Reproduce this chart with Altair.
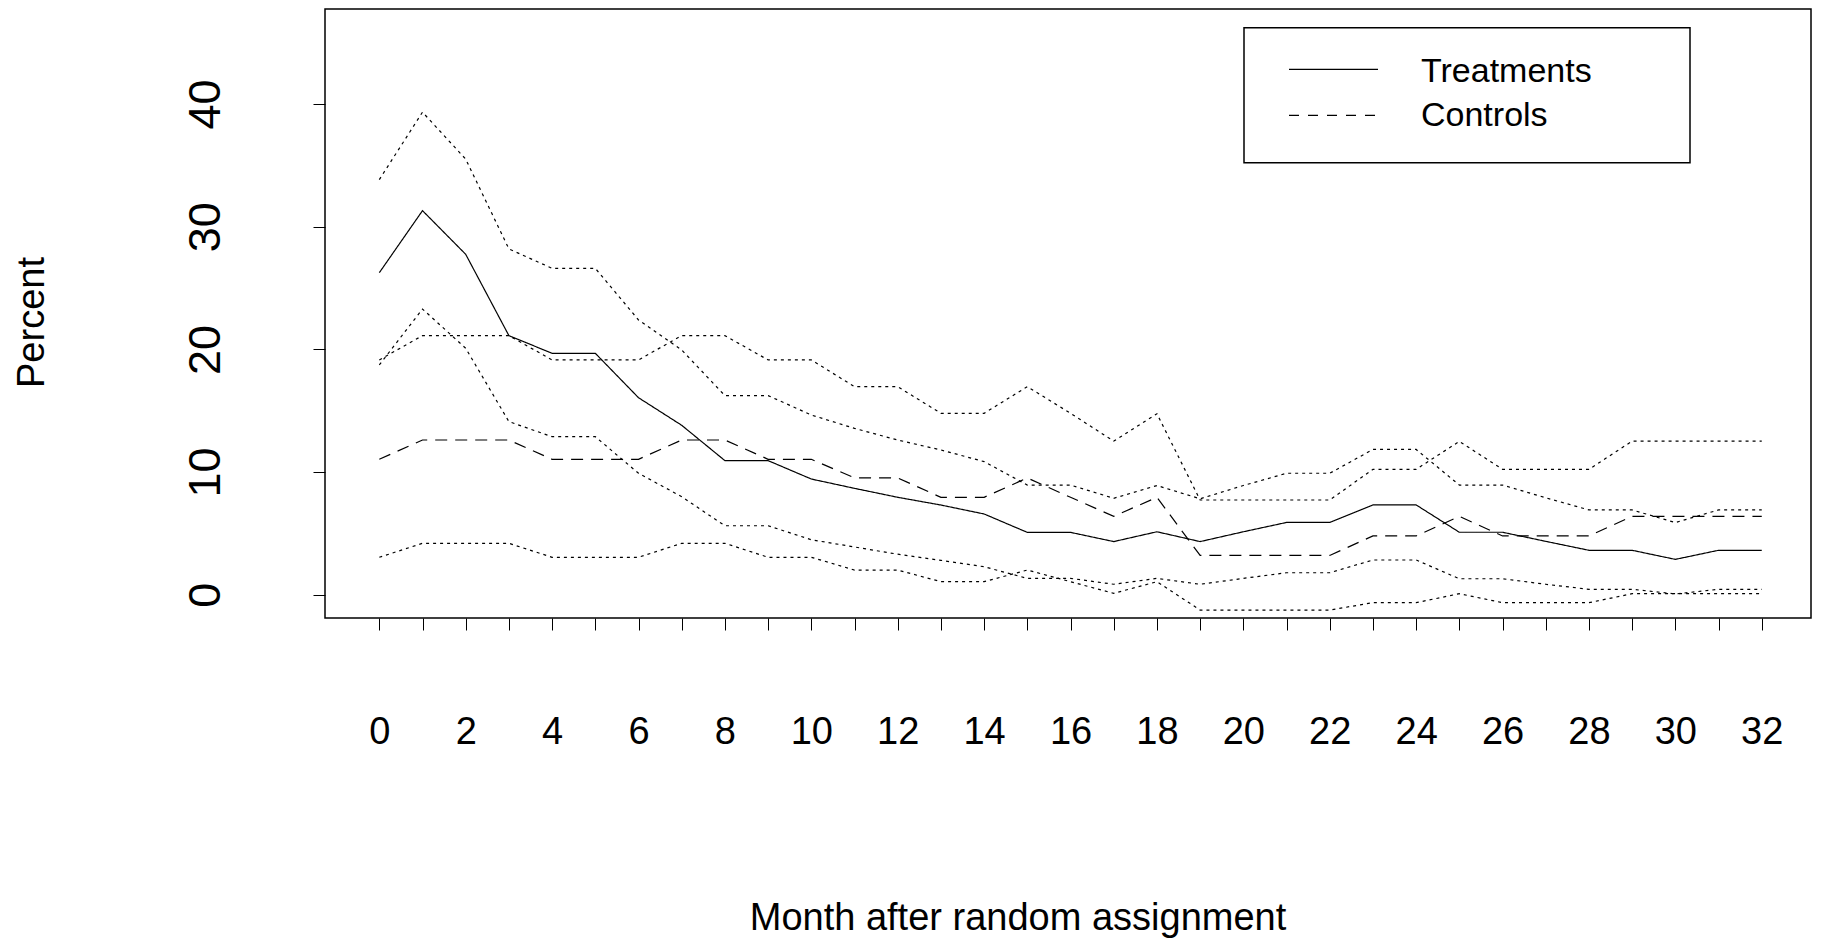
import altair as alt
import pandas as pd

months = list(range(33))
series_names = ["Treatments", "Controls"]

treat_mean = [26.25, 31.31, 27.75, 21.12, 19.68, 19.68, 16.06, 13.81, 10.93, 10.93, 9.43,
              8.67, 7.94, 7.31, 6.58, 5.08, 5.08, 4.33, 5.13, 4.33, 5.13, 5.89, 5.89,
              7.32, 7.32, 5.09, 5.09, 4.35, 3.62, 3.62, 2.88, 3.62, 3.62]
treat_upper = [33.84, 39.34, 35.51, 28.19, 26.61, 26.61, 22.40, 19.95, 16.23, 16.23, 14.65,
               13.56, 12.61, 11.80, 10.85, 8.94, 8.94, 7.86, 8.90, 7.82, 8.90, 9.90, 9.90,
               11.84, 11.84, 8.94, 8.94, 7.90, 6.91, 6.91, 5.88, 6.91, 6.91]
treat_lower = [18.73, 23.29, 20.09, 14.11, 12.88, 12.88, 9.90, 7.99, 5.62, 5.62, 4.48,
               3.89, 3.30, 2.80, 2.28, 1.33, 1.33, 0.85, 1.33, 0.85, 1.33, 1.79, 1.79,
               2.83, 2.83, 1.30, 1.30, 0.85, 0.44, 0.44, 0.06, 0.44, 0.44]
ctrl_mean = [11.04, 12.61, 12.61, 12.61, 11.04, 11.04, 11.04, 12.61, 12.61, 11.04, 11.04,
             9.52, 9.52, 7.94, 7.94, 9.52, 7.94, 6.39, 7.94, 3.20, 3.20, 3.20, 3.20,
             4.79, 4.79, 6.39, 4.79, 4.79, 4.79, 6.39, 6.39, 6.39, 6.39]
ctrl_upper = [19.14, 21.12, 21.12, 21.12, 19.14, 19.14, 19.14, 21.12, 21.12, 19.14, 19.14,
              16.96, 16.96, 14.79, 14.79, 16.96, 14.79, 12.52, 14.75, 7.72, 7.72, 7.72, 7.72,
              10.22, 10.22, 12.50, 10.22, 10.22, 10.22, 12.52, 12.52, 12.52, 12.52]
ctrl_lower = [3.05, 4.19, 4.19, 4.19, 3.05, 3.05, 3.05, 4.19, 4.19, 3.05, 3.05,
              2.01, 2.01, 1.06, 1.06, 2.01, 1.06, 0.11, 1.06, -1.25, -1.25, -1.25, -1.25,
              -0.65, -0.65, 0.08, -0.65, -0.65, -0.65, 0.08, 0.08, 0.08, 0.08]

y_ticks = [0, 10, 20, 30, 40]

series = {
    "Treatments": treat_mean,
    "Controls": ctrl_mean,
    "Treatments upper": treat_upper,
    "Treatments lower": treat_lower,
    "Controls upper": ctrl_upper,
    "Controls lower": ctrl_lower,
}
rows = []
for name, vals in series.items():
    for m, v in zip(months, vals):
        rows.append({"month": m, "value": v, "series": name})
df = pd.DataFrame(rows)

FONT = "Liberation Sans"
W, H = 1486, 609

dash_domain = list(series.keys())
dash_range = [[1, 0], [12, 8], [3, 4], [3, 4], [3, 4], [3, 4]]

lines = alt.Chart(df).mark_line(color="black", strokeWidth=1.2).encode(
    x=alt.X(
        "month:Q",
        scale=alt.Scale(domain=[-1.257, 33.14], nice=False, zero=False),
        axis=alt.Axis(
            values=months,
            labelExpr="datum.value % 2 == 0 ? datum.label : ''",
            tickSize=12, tickColor="black", tickWidth=1,
            labelPadding=102, labelBaseline="middle", labelAlign="center",
            labelFontSize=38, labelFont=FONT, labelColor="black",
            labelOverlap=False, labelFlush=False, labelBound=False,
            domain=False, grid=False,
            title="Month after random assignment",
            titleFont=FONT, titleFontSize=38, titleFontWeight="normal",
            titleColor="black", titleX=692.5, titleY=311,
            titleBaseline="alphabetic", titleAlign="center",
        ),
    ),
    y=alt.Y(
        "value:Q",
        scale=alt.Scale(domain=[-1.90, 47.75], nice=False, zero=False),
        axis=alt.Axis(
            values=y_ticks,
            tickSize=12, tickColor="black", tickWidth=1,
            labelAngle=-90, labelAlign="center", labelBaseline="middle",
            labelPadding=107.5, labelFontSize=45, labelFont=FONT,
            labelColor="black", labelOverlap=False, labelFlush=False,
            domain=False, grid=False,
            title="Percent", titleFont=FONT, titleFontSize=38,
            titleFontWeight="normal", titleColor="black",
            titleAngle=-90, titleX=-293, titleY=313,
            titleBaseline="middle", titleAlign="center",
        ),
    ),
    detail="series:N",
    strokeDash=alt.StrokeDash(
        "series:N",
        scale=alt.Scale(domain=dash_domain, range=dash_range),
        legend=None,
    ),
)

one = pd.DataFrame({"k": [0]})

legend_box = alt.Chart(one).mark_rect(
    fill="white", stroke="black", strokeWidth=1.5
).encode(
    x=alt.value(919), x2=alt.value(1365), y=alt.value(18.7), y2=alt.value(153.7)
)
legend_solid = alt.Chart(one).mark_rule(color="black", strokeWidth=1.2).encode(
    x=alt.value(964), x2=alt.value(1053), y=alt.value(60.3)
)
legend_dash = alt.Chart(one).mark_rule(
    color="black", strokeWidth=1.2, strokeDash=[10, 9]
).encode(
    x=alt.value(964), x2=alt.value(1053), y=alt.value(106.3)
)
legend_t1 = alt.Chart(one).mark_text(
    align="left", baseline="alphabetic", font=FONT, fontSize=34, color="black"
).encode(x=alt.value(1096), y=alt.value(72.5), text=alt.value(series_names[0]))
legend_t2 = alt.Chart(one).mark_text(
    align="left", baseline="alphabetic", font=FONT, fontSize=34, color="black"
).encode(x=alt.value(1096), y=alt.value(117), text=alt.value(series_names[1]))

chart = alt.layer(
    lines, legend_box, legend_solid, legend_dash, legend_t1, legend_t2
).properties(
    width=W, height=H,
    autosize=alt.AutoSizeParams(type="none", contains="content"),
    padding={"left": 317, "top": 1, "right": 2, "bottom": 321},
    background="white",
).configure_view(stroke="black", strokeWidth=1.5)

chart.save("out.html", embed_options={"renderer": "svg", "actions": False})
